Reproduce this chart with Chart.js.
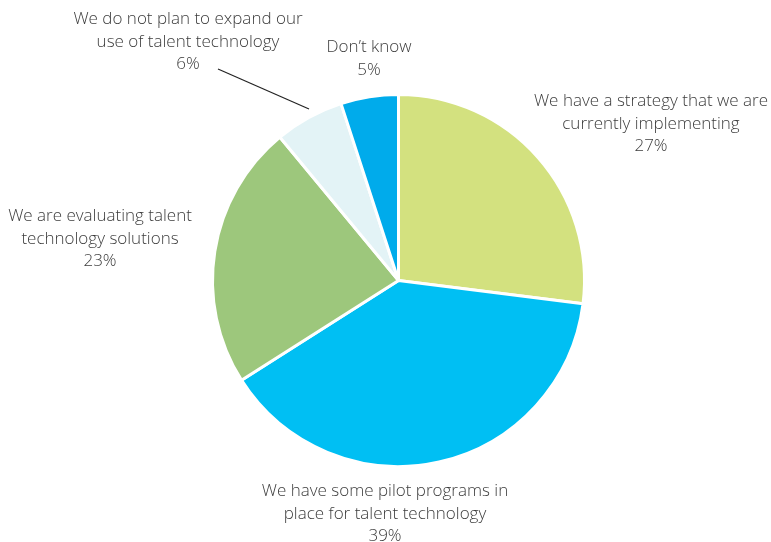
<!DOCTYPE html>
<html>
<head>
<meta charset="utf-8">
<script src="https://cdn.jsdelivr.net/npm/chart.js@4"></script>
<style>
  html, body { margin: 0; padding: 0; background: #fff; }
  #wrap { width: 771px; height: 542px; position: relative; }
</style>
</head>
<body>
<div id="wrap"><canvas id="pieChart"></canvas></div>
<script>
// answers, clockwise from 12 o'clock
const categories = [
  ["We have a strategy that we are", "currently implementing"],
  ["We have some pilot programs in", "place for talent technology"],
  ["We are evaluating talent", "technology solutions"],
  ["We do not plan to expand our", "use of talent technology"],
  ["Don\u2019t know"]
];
const shares = [27, 39, 23, 6, 5];
const sliceColors = ["#d3e17f", "#00bff3", "#9dc77c", "#e3f3f6", "#00abeb"];

// where each label block sits (centre x, first baseline y)
const labelSpots = [
  { x: 651, y: 106 },
  { x: 385, y: 496 },
  { x: 100, y: 221 },
  { x: 188, y: 24 },
  { x: 369, y: 52 }
];
const LINE_H = 22.5;

const labelPlugin = {
  id: "sliceLabels",
  afterDraw(chart) {
    const ctx = chart.ctx;
    ctx.save();
    ctx.font = "300 17px 'Open Sans', sans-serif";
    ctx.fillStyle = "#3c3c3c";
    ctx.textAlign = "center";
    ctx.textBaseline = "alphabetic";
    categories.forEach((lines, i) => {
      const spot = labelSpots[i];
      const all = lines.concat([shares[i] + "%"]);
      all.forEach((t, j) => ctx.fillText(t, spot.x, spot.y + j * LINE_H));
    });

    // leader line for the small "do not plan" slice
    ctx.strokeStyle = "#222";
    ctx.lineWidth = 1.2;
    ctx.beginPath();
    ctx.moveTo(218, 69);
    ctx.lineTo(309, 109);
    ctx.stroke();
    ctx.restore();
  }
};

new Chart(document.getElementById("pieChart"), {
  type: "pie",
  data: {
    labels: categories,
    datasets: [{
      data: shares,
      backgroundColor: sliceColors,
      borderColor: "#fff",
      borderWidth: 3
    }]
  },
  options: {
    responsive: true,
    maintainAspectRatio: false,
    animation: false,
    layout: { padding: { top: 93, bottom: 74, left: 211, right: 185 } },
    plugins: {
      legend: { display: false },
      tooltip: { enabled: false }
    }
  },
  plugins: [labelPlugin]
});
</script>
</body>
</html>
